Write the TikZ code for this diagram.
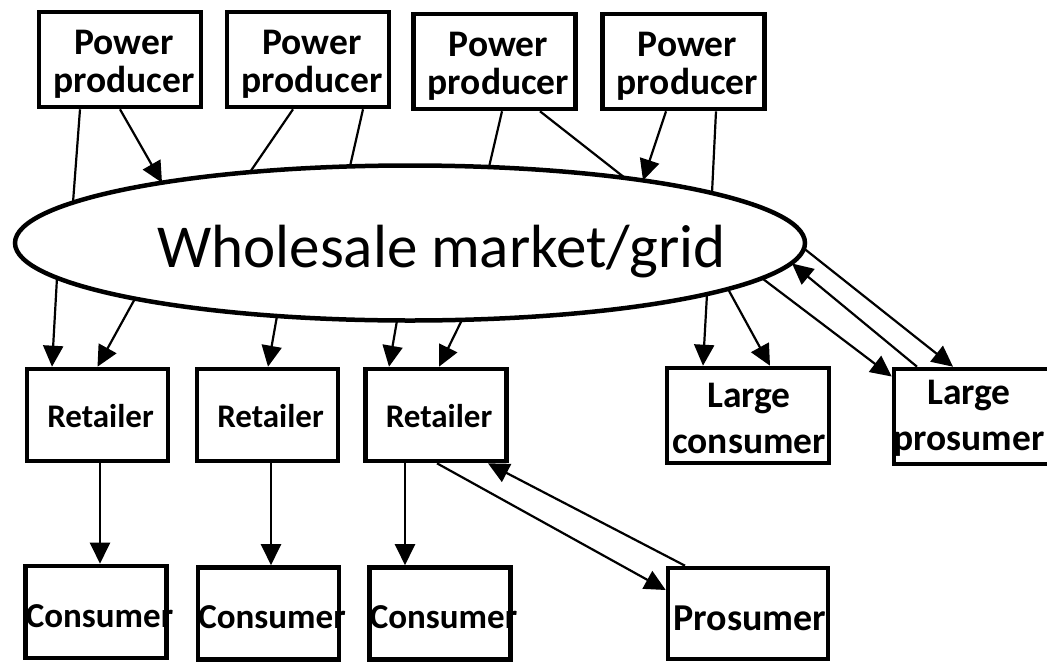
\documentclass[tikz,border=0pt]{standalone}
\usepackage{fontspec}
\setmainfont{Carlito}
\usetikzlibrary{shapes.geometric,arrows.meta,calc}
\begin{document}
\begin{tikzpicture}[x=1pt,y=-1pt,
  conn/.style={line width=2.2pt},
  arr/.style={conn,-{Triangle[length=21pt,width=20pt]}},
  bx/.style={draw,line width=4.6pt,inner sep=0pt,fill=white},
  ppbox/.style={bx,minimum width=162pt,minimum height=95pt},
  rbox/.style={bx,minimum width=141pt,minimum height=92pt},
  lbox/.style={bx,minimum width=162pt,minimum height=95pt},
  prbox/.style={bx,minimum width=160pt,minimum height=91pt},
  pptxt/.style={align=center,inner sep=0pt,font=\bfseries\fontsize{37.5}{38}\selectfont,xshift=4pt,yshift=-5pt},
  rtxt/.style={inner sep=0pt,font=\bfseries\fontsize{33}{36}\selectfont,xshift=3pt,yshift=-1.5pt},
  ctxt/.style={inner sep=0pt,font=\bfseries\fontsize{35}{36}\selectfont,xshift=3.5pt,yshift=-4pt},
  ltxt/.style={align=center,inner sep=0pt,font=\bfseries\fontsize{37.5}{46}\selectfont},
  prtxt/.style={inner sep=0pt,font=\bfseries\fontsize{38}{40}\selectfont,xshift=2pt,yshift=-5pt}
]
\useasboundingbox (0,0) rectangle (1047,662);

% market ellipse
\node[draw,ellipse,line width=4.5pt,minimum width=790pt,minimum height=155pt,inner sep=0pt] (W) at (410,243) {};
\node[anchor=base west,inner sep=0pt,font=\fontsize{61}{62}\selectfont] (Wt) at (157,267) {Wholesale market/grid};

% power producers
\node[ppbox,label={[pptxt]center:Power\\producer}] (P1) at (120,59.5) {};
\node[ppbox,label={[pptxt]center:Power\\producer}] (P2) at (308,59.5) {};
\node[ppbox,label={[pptxt]center:Power\\producer}] (P3) at (494.5,61.5) {};
\node[ppbox,label={[pptxt]center:Power\\producer}] (P4) at (683.5,61.5) {};

% retailers
\node[rbox,label={[rtxt]center:Retailer}] (R1) at (97.5,415) {};
\node[rbox,label={[rtxt]center:Retailer}] (R2) at (267.5,415) {};
\node[rbox,label={[rtxt]center:Retailer}] (R3) at (436,415) {};

% consumers
\node[rbox,label={[ctxt]center:Consumer}] (C1) at (96,612) {};
\node[rbox,label={[ctxt]center:Consumer}] (C2) at (268.5,613.5) {};
\node[rbox,label={[ctxt]center:Consumer}] (C3) at (440,613.5) {};

% large consumer / prosumer
\node[lbox,label={[ltxt,xshift=1pt,yshift=-2.5pt]center:Large\\consumer}] (LC) at (748,415.5) {};
\node[lbox,label={[ltxt,xshift=-6pt,yshift=-2pt]center:Large\\prosumer}] (LP) at (975,416.5) {};
\node[prbox,label={[prtxt]center:Prosumer}] (PR) at (748,613.5) {};

% points on the ellipse border
\coordinate (e1) at (73,202.6);
\coordinate (e2) at (162,182.7);
\coordinate (e3) at (250,172.1);
\coordinate (e4) at (350,166.4);
\coordinate (e5) at (489,167.1);
\coordinate (e6) at (625,178);
\coordinate (e7) at (643,180.4);
\coordinate (e8) at (712,193.1);
\coordinate (b1) at (57,277.7);
\coordinate (b2) at (135,298.6);
\coordinate (b3) at (277,316);
\coordinate (b4) at (397,320.5);
\coordinate (b5) at (462,319.8);
\coordinate (b6) at (707,294.1);
\coordinate (b7) at (728,289);
\coordinate (b8) at (762,278.2);
\coordinate (b9) at (792,263.5);
\coordinate (b10) at (804,248.5);

% producers to market
\draw[conn] ([xshift=-40pt]P1.south) -- (e1);
\draw[arr] (P1.south) -- (e2);
\draw[conn] ([xshift=-15pt]P2.south) -- (e3);
\draw[conn] ([xshift=55pt]P2.south) -- (e4);
\draw[conn] ([xshift=7.5pt]P3.south) -- (e5);
\draw[conn] ([xshift=45.5pt]P3.south) -- (e6);
\draw[arr] ([xshift=-17.5pt]P4.south) -- (e7);
\draw[conn] ([xshift=32.5pt]P4.south) -- (e8);

% market to retailers and large users
\draw[arr] (b1) -- ([xshift=-45.5pt]R1.north);
\draw[arr] (b2) -- (R1.north);
\draw[arr] (b3) -- ([xshift=0.5pt]R2.north);
\draw[arr] (b4) -- ([xshift=-47pt]R3.north);
\draw[arr] (b5) -- ([xshift=3pt]R3.north);
\draw[arr] (b6) -- ([xshift=-45pt]LC.north);
\draw[arr] (b7) -- ([xshift=22pt]LC.north);
\draw[arr] (b8) -- ([yshift=40pt]LP.west);
\draw[arr] ([xshift=-58pt]LP.north) -- (b9);
\draw[arr] (b10) -- ([xshift=-22pt]LP.north);

% retailers to consumers
\draw[arr] ([xshift=2.5pt]R1.south) -- ([xshift=4pt]C1.north);
\draw[arr] ([xshift=3.5pt]R2.south) -- ([xshift=2.5pt]C2.north);
\draw[arr] ([xshift=-31pt]R3.south) -- ([xshift=-35pt]C3.north);
\draw[arr] ([xshift=1pt]R3.south) -- ([yshift=23.5pt]PR.west);
\draw[arr] ([xshift=-63pt]PR.north) -- ([xshift=52pt]R3.south);
\end{tikzpicture}
\end{document}
